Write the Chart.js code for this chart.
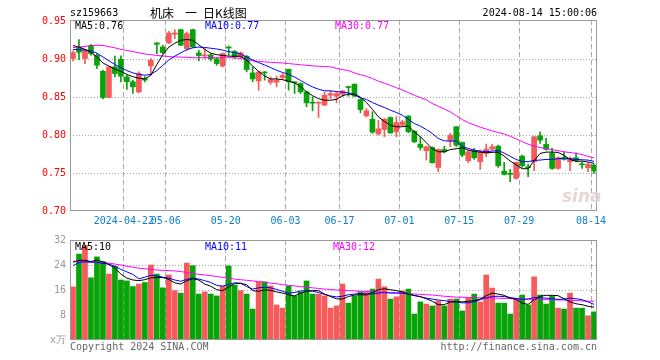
<!DOCTYPE html>
<html>
<head>
<meta charset="utf-8">
<script src="https://cdn.jsdelivr.net/npm/chart.js@4.4.3/dist/chart.umd.min.js"></script>
<style>
  body { margin: 0; background: #fff; width: 660px; height: 360px; overflow: hidden; position: relative;
         font-family: "DejaVu Sans Mono", monospace; font-size: 10px; }
  canvas { position: absolute; left: 0; }
  .t { position: absolute; white-space: pre; line-height: 12px; }
  .cjk { font-family: "Noto Sans CJK SC", sans-serif; font-size: 12px; line-height: 14px; }
</style>
</head>
<body>
<canvas id="price" width="660" height="230" style="top:0"></canvas>
<canvas id="vol" width="660" height="130" style="top:230px"></canvas>

<div class="t" style="left:70px;top:7px">sz159663</div>
<div class="t cjk" style="left:150px;top:6px">机床</div>
<div class="t cjk" style="left:185px;top:6px">一</div>
<div class="t cjk" style="left:203px;top:6px">日K线图</div>
<div class="t" style="right:63px;top:7px">2024-08-14 15:00:06</div>

<div class="t" style="left:75px;top:20px;color:#000">MA5:0.76</div>
<div class="t" style="left:205px;top:20px;color:#0000ff">MA10:0.77</div>
<div class="t" style="left:335px;top:20px;color:#ff00ff">MA30:0.77</div>

<div class="t" style="left:75px;top:241px;color:#000">MA5:10</div>
<div class="t" style="left:205px;top:241px;color:#0000ff">MA10:11</div>
<div class="t" style="left:333px;top:241px;color:#ff00ff">MA30:12</div>

<div class="t" style="left:70px;top:341px;color:#666">Copyright 2024 SINA.COM</div>
<div class="t" style="right:63px;top:341px;color:#666">http://finance.sina.com.cn</div>
<div class="t" style="left:562px;top:186px;color:#e6d6d6;font:italic bold 17px 'DejaVu Sans',sans-serif;line-height:20px">sina</div>

<script>
// trading days shown on the x axis
const dates = [
  '2024-04-09','2024-04-10','2024-04-11','2024-04-12','2024-04-15','2024-04-16','2024-04-17','2024-04-18','2024-04-19',
  '2024-04-22','2024-04-23','2024-04-24','2024-04-25','2024-04-26','2024-04-29','2024-04-30',
  '2024-05-06','2024-05-07','2024-05-08','2024-05-09','2024-05-10','2024-05-13','2024-05-14','2024-05-15','2024-05-16','2024-05-17',
  '2024-05-20','2024-05-21','2024-05-22','2024-05-23','2024-05-24','2024-05-27','2024-05-28','2024-05-29','2024-05-30','2024-05-31',
  '2024-06-03','2024-06-04','2024-06-05','2024-06-06','2024-06-07','2024-06-11','2024-06-12','2024-06-13','2024-06-14',
  '2024-06-17','2024-06-18','2024-06-19','2024-06-20','2024-06-21','2024-06-24','2024-06-25','2024-06-26','2024-06-27','2024-06-28',
  '2024-07-01','2024-07-02','2024-07-03','2024-07-04','2024-07-05','2024-07-08','2024-07-09','2024-07-10','2024-07-11','2024-07-12',
  '2024-07-15','2024-07-16','2024-07-17','2024-07-18','2024-07-19','2024-07-22','2024-07-23','2024-07-24','2024-07-25','2024-07-26',
  '2024-07-29','2024-07-30','2024-07-31','2024-08-01','2024-08-02','2024-08-05','2024-08-06','2024-08-07','2024-08-08','2024-08-09',
  '2024-08-12','2024-08-13','2024-08-14'
];
const xTicks = ['2024-04-22','2024-05-06','2024-05-20','2024-06-03','2024-06-17','2024-07-01','2024-07-15','2024-07-29','2024-08-14'];
const priceTicks = [0.70, 0.75, 0.80, 0.85, 0.90, 0.95];
const volTicks = [0, 8, 16, 24, 32];

const opens = [
  0.9009,0.9153,0.9009,0.9180,0.9053,0.8842,0.8496,0.8899,0.9000,0.8767,
  0.8702,0.8570,0.8745,0.8912,0.9215,0.9162,0.9215,0.9329,0.9390,0.9140,
  0.9390,0.9083,0.9044,0.9057,0.9004,0.8908,0.9155,0.9101,0.9031,0.9039,
  0.8820,0.8715,0.8833,0.8697,0.8697,0.8759,0.8868,0.8697,0.8680,0.8570,
  0.8434,0.8421,0.8395,0.8526,0.8513,0.8539,0.8636,0.8671,0.8469,0.8254,
  0.8210,0.8013,0.8074,0.8232,0.8044,0.8131,0.8250,0.8052,0.7881,0.7794,
  0.7837,0.7574,0.7811,0.7925,0.8110,0.7903,0.7662,0.7794,0.7649,0.7759,
  0.7816,0.7855,0.7526,0.7496,0.7430,0.7724,0.7583,0.7649,0.7991,0.7877,
  0.7759,0.7561,0.7702,0.7649,0.7702,0.7618,0.7570,0.7605
];
const highs = [
  0.9110,0.9259,0.9127,0.9197,0.9074,0.8855,0.8908,0.9040,0.9044,0.8789,
  0.8724,0.8833,0.8770,0.9009,0.9220,0.9184,0.9368,0.9390,0.9395,0.9360,
  0.9395,0.9118,0.9140,0.9075,0.9020,0.9083,0.9175,0.9118,0.9096,0.9050,
  0.8899,0.8840,0.8836,0.8768,0.8776,0.8811,0.8870,0.8702,0.8690,0.8580,
  0.8504,0.8439,0.8570,0.8583,0.8570,0.8592,0.8645,0.8675,0.8480,0.8350,
  0.8307,0.8197,0.8220,0.8241,0.8241,0.8197,0.8260,0.8060,0.7978,0.7855,
  0.7846,0.7820,0.7855,0.8022,0.8115,0.7910,0.7800,0.7825,0.7803,0.7882,
  0.7880,0.7868,0.7640,0.7548,0.7649,0.7737,0.7618,0.7987,0.8044,0.7956,
  0.7825,0.7715,0.7781,0.7715,0.7768,0.7649,0.7636,0.7618
];
const lows = [
  0.8978,0.8995,0.8943,0.9053,0.8877,0.8478,0.8490,0.8767,0.8702,0.8601,
  0.8548,0.8557,0.8700,0.8789,0.9074,0.9074,0.9206,0.9272,0.9180,0.9118,
  0.9155,0.8978,0.9009,0.8978,0.8921,0.8899,0.9050,0.9009,0.9009,0.8833,
  0.8702,0.8592,0.8724,0.8671,0.8636,0.8732,0.8592,0.8548,0.8548,0.8373,
  0.8320,0.8232,0.8390,0.8482,0.8425,0.8504,0.8513,0.8510,0.8294,0.8241,
  0.8022,0.8000,0.7978,0.8022,0.7978,0.8120,0.8030,0.7900,0.7802,0.7671,
  0.7630,0.7517,0.7767,0.7846,0.7850,0.7715,0.7636,0.7680,0.7548,0.7715,
  0.7803,0.7575,0.7474,0.7386,0.7420,0.7575,0.7452,0.7530,0.7890,0.7803,
  0.7548,0.7548,0.7671,0.7530,0.7649,0.7561,0.7518,0.7496
];
const closes = [
  0.9088,0.9092,0.9118,0.9074,0.8921,0.8496,0.8899,0.8811,0.8776,0.8702,
  0.8636,0.8811,0.8725,0.8987,0.9197,0.9088,0.9346,0.9346,0.9184,0.9338,
  0.9162,0.9048,0.9057,0.9004,0.8943,0.9075,0.9148,0.9031,0.9083,0.8864,
  0.8741,0.8833,0.8820,0.8732,0.8724,0.8789,0.8702,0.8689,0.8570,0.8425,
  0.8421,0.8434,0.8526,0.8548,0.8548,0.8583,0.8627,0.8513,0.8337,0.8320,
  0.8039,0.8083,0.8210,0.8030,0.8166,0.8175,0.8044,0.7912,0.7837,0.7846,
  0.7636,0.7811,0.7780,0.8000,0.7868,0.7737,0.7781,0.7702,0.7772,0.7816,
  0.7846,0.7596,0.7482,0.7482,0.7640,0.7596,0.7570,0.7978,0.7934,0.7812,
  0.7561,0.7702,0.7680,0.7693,0.7662,0.7609,0.7614,0.7526
];
const ma5 = [
  0.918,0.916,0.913,0.909,0.903,0.895,0.891,0.887,0.884,0.880,
  0.877,0.875,0.874,0.879,0.893,0.906,0.916,0.921,0.925,0.926,
  0.925,0.919,0.913,0.908,0.906,0.905,0.904,0.904,0.904,0.899,
  0.891,0.884,0.878,0.874,0.874,0.873,0.871,0.869,0.864,0.857,
  0.852,0.848,0.846,0.846,0.847,0.852,0.854,0.854,0.850,0.843,
  0.834,0.824,0.818,0.813,0.811,0.811,0.812,0.804,0.798,0.790,
  0.782,0.778,0.778,0.781,0.782,0.7833,0.7803,0.7785,0.7776,0.7768,
  0.7772,0.7776,0.7724,0.7658,0.7610,0.7557,0.7557,0.7662,0.7759,0.7776,
  0.7776,0.7772,0.7733,0.7680,0.7654,0.7658,0.7645,0.7627
];
const ma10 = [
  0.9128,0.9125,0.9122,0.911,0.908,0.903,0.898,0.893,0.889,0.885,
  0.882,0.880,0.879,0.880,0.885,0.892,0.899,0.904,0.9085,0.9125,
  0.915,0.916,0.9155,0.9145,0.9135,0.912,0.910,0.909,0.907,0.903,
  0.899,0.8955,0.8925,0.889,0.8855,0.8825,0.880,0.8765,0.872,0.8675,
  0.8635,0.8605,0.8585,0.8583,0.8574,0.8566,0.8557,0.853,0.849,0.847,
  0.843,0.8395,0.8364,0.8329,0.8298,0.8263,0.8206,0.8153,0.8118,0.8074,
  0.8022,0.7956,0.7925,0.7921,0.7921,0.7851,0.7825,0.7803,0.779,0.7781,
  0.779,0.7798,0.7763,0.772,0.768,0.765,0.765,0.7667,0.7671,0.768,
  0.768,0.7689,0.7697,0.7689,0.768,0.7675,0.7671,0.7654
];
const ma30 = [
  0.9154,0.916,0.917,0.9178,0.9184,0.9182,0.9166,0.915,0.913,0.9115,
  0.910,0.9085,0.907,0.906,0.905,0.9043,0.9035,0.903,0.9028,0.9025,
  0.902,0.902,0.902,0.902,0.902,0.902,0.902,0.9018,0.901,0.8995,
  0.898,0.897,0.8965,0.896,0.8955,0.895,0.8943,0.8935,0.8928,0.892,
  0.8912,0.8908,0.8903,0.8899,0.888,0.8864,0.885,0.882,0.8795,0.8776,
  0.8745,0.871,0.8685,0.8655,0.8625,0.8595,0.856,0.8525,0.8495,0.8465,
  0.8417,0.838,0.8345,0.8307,0.8255,0.8205,0.8165,0.8135,0.8105,0.808,
  0.8055,0.8035,0.8015,0.7985,0.795,0.7915,0.788,0.7855,0.7838,0.782,
  0.7808,0.7795,0.778,0.777,0.776,0.7745,0.772,0.770
];
// volume, in 10k shares
const volumes = [
  17.0,27.5,30.3,19.9,26.6,25.1,21.1,23.6,19.2,18.9,
  17.1,17.9,18.4,24.0,21.1,16.7,20.8,15.8,15.0,24.6,
  23.8,14.7,15.4,14.7,14.1,17.3,23.7,17.5,15.8,14.7,
  9.9,18.6,18.6,17.3,11.2,10.2,17.3,14.1,15.4,18.9,
  14.7,14.7,14.1,10.2,10.9,17.9,11.8,14.1,15.4,15.4,
  16.3,19.5,17.0,13.1,13.8,15.7,16.3,8.3,12.2,11.5,
  10.9,12.5,10.9,13.1,13.1,9.3,13.4,14.7,12.2,20.8,
  16.6,11.8,11.8,8.3,13.1,14.4,11.2,20.2,14.4,11.5,
  14.1,10.2,9.9,15.0,10.2,10.2,7.7,9.0
];
const volMa5 = [
  24.9,25.5,25.5,25.1,25.6,25.0,24.1,23.0,21.1,19.8,
  19.2,19.0,19.3,19.9,20.0,20.0,19.4,18.3,17.9,19.0,
  19.6,19.2,17.9,17.2,16.1,15.8,17.0,18.0,18.1,17.7,
  15.8,15.6,16.0,15.9,15.4,15.0,14.5,14.1,15.0,15.6,
  15.8,15.8,14.7,13.9,13.2,13.1,13.9,14.4,14.5,14.4,
  15.2,16.1,16.4,16.1,15.8,15.4,14.7,14.2,13.9,13.2,
  12.4,11.3,11.3,12.2,12.3,12.2,12.4,12.6,13.1,14.2,
  15.0,14.7,14.3,13.4,13.0,11.8,11.4,12.9,14.0,14.3,
  14.3,14.2,13.2,12.2,11.6,11.3,10.8,10.5
];
const volMa10 = [
  23.8,24.8,25.0,25.0,24.9,24.5,24.3,23.6,22.6,21.8,
  21.0,19.6,20.1,20.7,20.5,20.1,19.8,19.2,18.8,19.4,
  19.8,19.5,19.0,18.4,17.5,17.2,17.8,18.3,18.2,17.1,
  16.3,16.7,16.9,16.7,16.2,15.6,15.0,15.2,15.7,15.8,
  15.6,15.2,14.6,14.1,13.8,14.0,14.5,14.7,14.9,14.7,
  14.8,15.0,15.2,15.0,15.0,15.0,14.7,14.3,13.8,13.4,
  13.1,12.8,12.6,12.3,12.1,11.9,11.9,12.2,12.9,13.5,
  13.9,14.0,13.9,13.6,13.3,13.0,13.1,13.6,13.5,13.4,
  13.2,13.0,13.1,13.4,13.2,12.9,12.2,11.4
];
const volMa30 = [
  25.2,25.1,25.0,24.9,24.8,24.8,24.6,24.3,24.0,23.6,
  23.3,23.0,22.8,22.6,22.4,22.3,22.2,22.1,21.9,21.6,
  21.3,21.0,20.8,20.6,20.3,20.0,19.8,19.5,19.3,19.1,
  18.9,18.7,18.5,18.2,18.0,17.7,17.5,17.3,17.1,16.9,
  16.7,16.5,16.3,16.2,16.0,15.9,15.8,15.7,15.6,15.6,
  15.5,15.4,15.3,15.2,15.1,15.0,14.8,14.7,14.6,14.5,
  14.4,14.2,14.0,13.9,13.7,13.7,13.6,13.6,13.5,13.5,
  13.4,13.4,13.3,13.3,13.2,13.1,13.1,13.0,13.0,12.9,
  12.9,12.8,12.8,12.7,12.6,12.5,12.4,12.4
];

const UP = '#f65a5a', DOWN = '#08a308', GRID = '#aaaaaa';
const mono = { family: 'DejaVu Sans Mono', size: 10 };
const barColors = closes.map((c, i) => c >= opens[i] ? UP : DOWN);
const tickIndex = xTicks.map(d => dates.indexOf(d));

const frame = {
  id: 'frame',
  afterDatasetsDraw(chart) {
    const a = chart.chartArea, ctx = chart.ctx;
    ctx.save();
    ctx.strokeStyle = '#999';
    ctx.lineWidth = 1;
    ctx.strokeRect(Math.round(a.left) + 0.5, Math.round(a.top) + 0.5,
                   Math.round(a.right - a.left) - 1, Math.round(a.bottom - a.top) - 1);
    ctx.restore();
  }
};

function xScale(showLabels, height) {
  return {
    offset: true,
    afterFit: s => { s.height = height; },
    grid: {
      offset: true, drawTicks: false, lineWidth: 1,
      color: c => tickIndex.includes(c.index) ? GRID : 'rgba(0,0,0,0)'
    },
    border: { display: false, dash: [5, 3] },
    ticks: {
      display: showLabels, autoSkip: false, maxRotation: 0, padding: 4, labelOffset: -3,
      color: '#0a80d2', font: mono,
      callback: (v, i) => {
        const k = xTicks.indexOf(dates[i]);
        if (k < 0) return '';
        return k === 0 ? dates[i] : dates[i].slice(5);
      }
    }
  };
}

function maLine(data, color) {
  return { type: 'line', data, borderColor: color, borderWidth: 1, pointRadius: 0, tension: 0, order: 0 };
}

Chart.defaults.animation = false;

new Chart(document.getElementById('price'), {
  type: 'bar',
  data: {
    labels: dates,
    datasets: [
      maLine(ma5, '#000000'),
      maLine(ma10, '#0000ff'),
      maLine(ma30, '#ff00ff'),
      { data: opens.map((o, i) => [o, closes[i]]), backgroundColor: barColors,
        barThickness: 5, minBarLength: 1, grouped: false, order: 1 },
      { data: lows.map((l, i) => [l, highs[i]]), backgroundColor: barColors,
        barThickness: 1, grouped: false, order: 2 }
    ]
  },
  options: {
    responsive: false,
    devicePixelRatio: 1,
    layout: { padding: { left: 0, right: 63, top: 20, bottom: 0 } },
    plugins: { legend: { display: false }, tooltip: { enabled: false } },
    scales: {
      x: xScale(true, 19),
      y: {
        min: 0.70, max: 0.9517,
        afterBuildTicks: s => { s.ticks = priceTicks.map(v => ({ value: v })); },
        afterFit: s => { s.width = 70; },
        grid: { drawTicks: false, color: c => (c.tick && c.tick.value > 0.71 && c.tick.value < 0.94) ? GRID : 'rgba(0,0,0,0)' },
        border: { display: false, dash: [1, 2] },
        ticks: { color: '#ff0000', font: mono, padding: 4, callback: v => v.toFixed(2) }
      }
    }
  },
  plugins: [frame]
});

new Chart(document.getElementById('vol'), {
  type: 'bar',
  data: {
    labels: dates,
    datasets: [
      maLine(volMa5, '#000000'),
      maLine(volMa10, '#0000ff'),
      maLine(volMa30, '#ff00ff'),
      { data: volumes, backgroundColor: barColors, barThickness: 5, grouped: false, order: 1 }
    ]
  },
  options: {
    responsive: false,
    devicePixelRatio: 1,
    layout: { padding: { left: 0, right: 63, top: 10, bottom: 0 } },
    plugins: { legend: { display: false }, tooltip: { enabled: false } },
    scales: {
      x: xScale(false, 20),
      y: {
        min: 0, max: 32,
        afterBuildTicks: s => { s.ticks = volTicks.map(v => ({ value: v })); },
        afterFit: s => { s.width = 70; },
        grid: { drawTicks: false, color: c => (c.tick && c.tick.value > 0 && c.tick.value < 32) ? GRID : 'rgba(0,0,0,0)' },
        border: { display: false, dash: [1, 2] },
        ticks: { color: '#999999', font: mono, padding: 4, callback: v => v === 0 ? 'x万' : String(v) }
      }
    }
  },
  plugins: [frame]
});
</script>
</body>
</html>
